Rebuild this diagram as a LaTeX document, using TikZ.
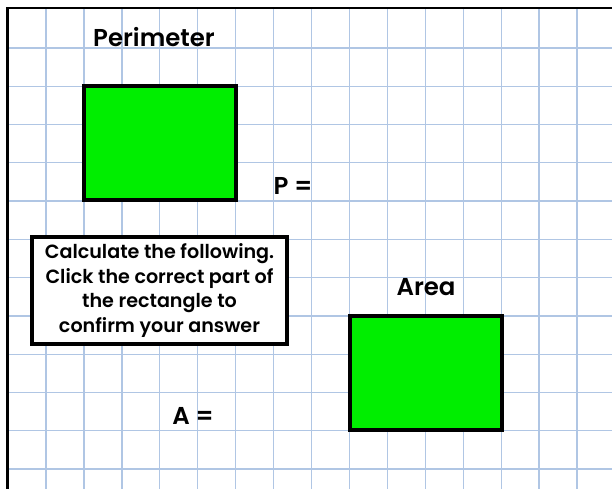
\documentclass[tikz,border=0pt]{standalone}
\usepackage{fontspec}
\setmainfont{Poppins}[BoldFont={Poppins SemiBold}]
\usepackage{xcolor}
\usepackage{tikz}
\usetikzlibrary{positioning}

\definecolor{gridblue}{RGB}{176,198,228}
\definecolor{shapegreen}{RGB}{0,238,0}

\begin{document}
\begin{tikzpicture}[
  x=1bp, y=-1bp,
  gridline/.style={line width=1.3bp, color=gridblue},
  greenbox/.style={draw=black, line width=3.5bp, fill=shapegreen},
  infobox/.style={draw=black, line width=3.5bp, fill=white,
               minimum width=255bp, minimum height=107bp, align=center,
               inner sep=0pt, font=\bfseries\fontsize{19.2}{25}\selectfont},
  heading/.style={font=\bfseries\fontsize{24.5}{28}\selectfont, inner sep=0pt},
]
\useasboundingbox (0,0) rectangle (612,489);
\fill[white] (0,0) rectangle (612,489);

% squared paper
\foreach \i in {0,...,14}
  \draw[gridline] ({46+37.93*\i},9) -- ({46+37.93*\i},489);
\foreach \j in {0,...,11}
  \draw[gridline] (8,{48+38.27*\j}) -- (612,{48+38.27*\j});
\draw[line width=2.5bp] (7.5,489) -- (7.5,8) -- (612,8);

% perimeter part
\node[heading] (perim) at (154,37) {Perimeter};
\draw[greenbox] (84,86) rectangle (236,200);
\node[heading] (peq) at (293,186) {P =};

% area part
\node[heading] (area) at (426,287) {Area};
\draw[greenbox] (350,316) rectangle (502,430);
\node[heading] (aeq) at (193,416) {A =};

% instructions
\node[infobox] (info) at (159.5,290.5) {Calculate the following.\\
  Click the correct part of\\ the rectangle to\\ confirm your answer};
\end{tikzpicture}
\end{document}
